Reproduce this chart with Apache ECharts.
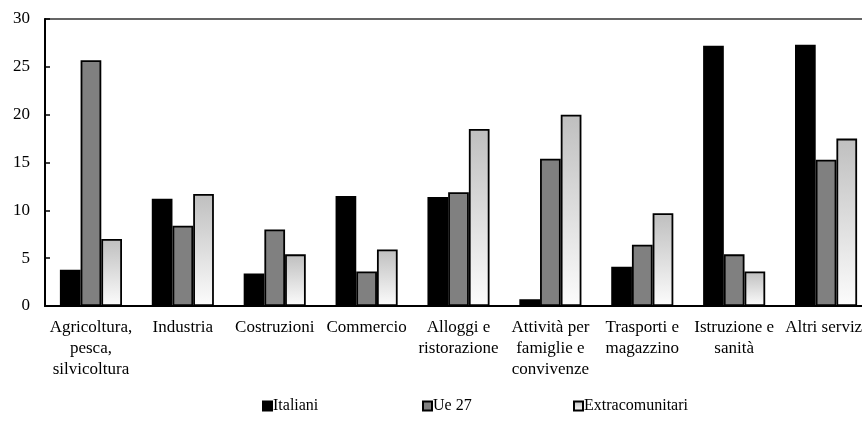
<!DOCTYPE html>
<html>
<head>
<meta charset="utf-8">
<style>
  html, body { margin: 0; padding: 0; background: #fff; }
  #chart { width: 862px; height: 425px; }
</style>
<script src="https://cdn.jsdelivr.net/npm/echarts@6/dist/echarts.min.js"></script>
</head>
<body>
<div id="chart"></div>
<script>
// Sectors of employment (multi-line labels)
const categories = [
  'Agricoltura,\npesca,\nsilvicoltura',
  'Industria',
  'Costruzioni',
  'Commercio',
  'Alloggi e\nristorazione',
  'Attività per\nfamiglie e\nconvivenze',
  'Trasporti e\nmagazzino',
  'Istruzione e\nsanità',
  'Altri servizi'
];

const seriesNames = ['Italiani', 'Ue 27', 'Extracomunitari'];

// Percentage shares per sector
const italiani        = [3.8, 11.2, 3.4, 11.5, 11.4, 0.7, 4.1, 27.2, 27.3];
const ue27            = [25.7, 8.4, 8.0, 3.6, 11.9, 15.4, 6.4, 5.4, 15.3];
const extracomunitari = [7.0, 11.7, 5.4, 5.9, 18.5, 20.0, 9.7, 3.6, 17.5];

const yTicks = { min: 0, max: 30, interval: 5 };

const FONT = '"Liberation Serif", "Times New Roman", serif';

const lightGradient = new echarts.graphic.LinearGradient(0, 0, 0, 1, [
  { offset: 0, color: '#bfbfbf' },
  { offset: 1, color: '#fcfcfc' }
]);

const fills = ['#000000', '#808080', lightGradient];
const values = [italiani, ue27, extracomunitari];

const chart = echarts.init(document.getElementById('chart'), null, { renderer: 'canvas' });

const legendLefts = [262, 422, 573];

chart.setOption({
  animation: false,
  backgroundColor: '#ffffff',
  grid: {
    left: 45, top: 19, width: 827, bottom: 119,
    outerBoundsMode: 'none',
    containLabel: false,
    show: true, borderColor: '#333', borderWidth: 1.5, backgroundColor: 'transparent'
  },
  legend: seriesNames.map((name, i) => ({
    data: [name],
    left: legendLefts[i],
    top: 398,
    padding: 0,
    itemWidth: 9,
    itemHeight: 9,
    icon: 'rect',
    textStyle: { fontFamily: FONT, fontSize: 16, color: '#000', padding: [0, 0, 0, -4] },
    selectedMode: false
  })),
  xAxis: {
    type: 'category',
    data: categories,
    axisLine: { show: true, lineStyle: { color: '#000', width: 2 } },
    axisTick: { show: false },
    axisLabel: {
      interval: 0,
      margin: 11,
      fontFamily: FONT,
      fontSize: 17,
      lineHeight: 21,
      color: '#000',
      hideOverlap: false
    },
    splitLine: { show: false }
  },
  yAxis: {
    type: 'value',
    min: yTicks.min,
    max: yTicks.max,
    interval: yTicks.interval,
    axisLine: { show: true, lineStyle: { color: '#000', width: 2 } },
    axisTick: { show: true, inside: true, length: 5, lineStyle: { color: '#000', width: 1.5 } },
    axisLabel: { margin: 15, fontFamily: FONT, fontSize: 17, color: '#000' },
    splitLine: { show: false }
  },
  series: seriesNames.map((name, i) => ({
    name: name,
    type: 'bar',
    data: values[i],
    barWidth: 20.7,
    barGap: '0%',
    itemStyle: {
      color: fills[i],
      borderColor: '#000',
      borderWidth: 1.8
    },
    emphasis: { disabled: true }
  }))
});
</script>
</body>
</html>
